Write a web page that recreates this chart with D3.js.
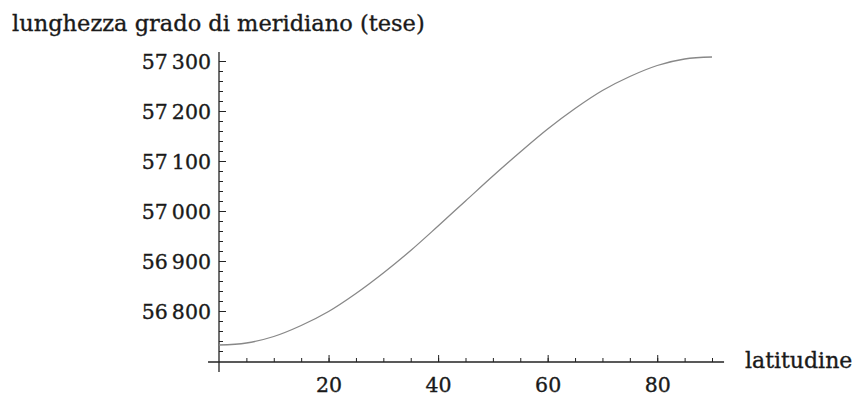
<!DOCTYPE html>
<html>
<head>
<meta charset="utf-8">
<script src="https://cdn.jsdelivr.net/npm/d3@7"></script>
<style>
  body { margin: 0; background: #fff; }
  text { font-family: "DejaVu Serif", serif; fill: #1a1a1a; stroke: #1a1a1a; stroke-width: 0.35px; }
</style>
</head>
<body>
<svg id="chart" width="859" height="397"></svg>
<script>
// latitudine (gradi) e lunghezza del grado di meridiano (tese)
var latitudes = [0, 5, 10, 15, 20, 25, 30, 35, 40, 45, 50, 55, 60, 65, 70, 75, 80, 85, 90];
var lengths = [56732, 56736, 56749, 56771, 56799, 56835, 56876, 56921, 56970, 57020,
               57070, 57118, 57164, 57205, 57241, 57269, 57291, 57304, 57308];
var xTicks = [20, 40, 60, 80];
var yTicks = [56800, 56900, 57000, 57100, 57200, 57300];
var yTitle = "lunghezza grado di meridiano (tese)";
var xTitle = "latitudine";

var svg = d3.select("#chart");

var xScale = d3.scaleLinear()
    .domain([0, 90])
    .range([219, 712]);

var yScale = d3.scaleLinear()
    .domain([56800, 57300])
    .range([311, 61]);

var xOrigin = 56698;   // dove l'asse x taglia l'asse y
var fmt = function(d) { return d3.format(",")(d).replace(",", "\u2009"); };

// minor ticks
svg.append("g")
    .attr("transform", "translate(0," + yScale(xOrigin) + ")")
    .call(d3.axisBottom(xScale).tickValues(d3.range(5, 95, 5)).tickSize(-4).tickFormat(""))
    .call(function(g) { g.select(".domain").remove(); });

svg.append("g")
    .attr("transform", "translate(" + xScale(0) + ",0)")
    .call(d3.axisLeft(yScale).tickValues(d3.range(56720, 57320, 20)).tickSize(-4).tickFormat(""))
    .call(function(g) { g.select(".domain").remove(); });

// major ticks + labels
var xAxis = svg.append("g")
    .attr("transform", "translate(0," + yScale(xOrigin) + ")")
    .call(d3.axisBottom(xScale).tickValues(xTicks).tickSize(-7).tickPadding(15));
xAxis.select(".domain").remove();
xAxis.selectAll("text").style("font-size", "20.5px");

var yAxis = svg.append("g")
    .attr("transform", "translate(" + xScale(0) + ",0)")
    .call(d3.axisLeft(yScale).tickValues(yTicks).tickSize(-7).tickPadding(8).tickFormat(fmt));
yAxis.select(".domain").remove();
yAxis.selectAll("text").style("font-size", "20.5px").attr("dy", "0.35em");

svg.selectAll(".tick line").attr("stroke", "#222");

// axis lines
svg.append("line")
    .attr("x1", xScale(-2)).attr("x2", xScale(92.2))
    .attr("y1", yScale(xOrigin)).attr("y2", yScale(xOrigin))
    .attr("stroke", "#222").attr("stroke-width", 1.3);

svg.append("line")
    .attr("x1", xScale(0)).attr("x2", xScale(0))
    .attr("y1", yScale(57318)).attr("y2", yScale(56678))
    .attr("stroke", "#222").attr("stroke-width", 1.3);

// curve
var line = d3.line()
    .x(function(d, i) { return xScale(latitudes[i]); })
    .y(function(d) { return yScale(d); })
    .curve(d3.curveCatmullRom);

svg.append("path")
    .datum(lengths)
    .attr("d", line)
    .attr("fill", "none")
    .attr("stroke", "#888")
    .attr("stroke-width", 1.3);

// titles
svg.append("text")
    .attr("x", 12).attr("y", 31)
    .style("font-size", "22.5px")
    .text(yTitle);

svg.append("text")
    .attr("x", 745).attr("y", 368)
    .style("font-size", "22px")
    .text(xTitle);
</script>
</body>
</html>
